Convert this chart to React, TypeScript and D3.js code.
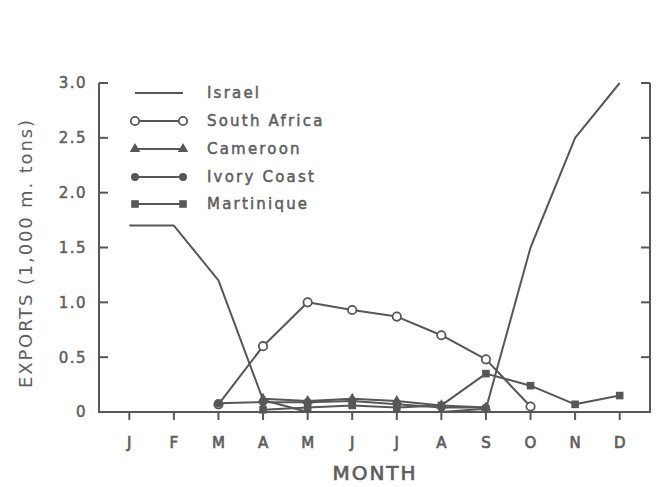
import React from "react";
import * as d3 from "d3";

const months = ["J", "F", "M", "A", "M", "J", "J", "A", "S", "O", "N", "D"];
const yTicks = [0, 0.5, 1.0, 1.5, 2.0, 2.5, 3.0];
const yTickLabels = ["0", "0.5", "1.0", "1.5", "2.0", "2.5", "3.0"];
const israel = [1.7, 1.7, 1.2, 0.11, 0, 0, 0, 0, 0.03, 1.5, 2.5, 3.0];
const southAfrica = [null, null, 0.07, 0.6, 1.0, 0.93, 0.87, 0.7, 0.48, 0.05, null, null];
const cameroon = [null, null, null, 0.12, 0.1, 0.12, 0.1, 0.06, 0.04, null, null, null];
const ivoryCoast = [null, null, 0.08, 0.09, 0.09, 0.1, 0.07, 0.04, 0.04, null, null, null];
const martinique = [null, null, null, 0.02, 0.04, 0.06, 0.04, 0.06, 0.35, 0.24, 0.07, 0.15];

const seriesNames = ["Israel", "South Africa", "Cameroon", "Ivory Coast", "Martinique"];
const seriesData = [israel, southAfrica, cameroon, ivoryCoast, martinique];
const seriesMarkers = ["none", "openCircle", "triangle", "filledCircle", "square"];

const W = 668;
const H = 487;
const INK = "#575757";
const TXT = "#5e5e5e";
const FONT = "'DejaVu Sans', sans-serif";

function Marker({ kind, x, y }: { kind: string; x: number; y: number }) {
  if (kind === "openCircle")
    return <circle cx={x} cy={y} r={4.2} fill="#fff" stroke={INK} strokeWidth={1.8} />;
  if (kind === "filledCircle")
    return <circle cx={x} cy={y} r={4} fill={INK} />;
  if (kind === "square")
    return <rect x={x - 3.8} y={y - 3.8} width={7.6} height={7.6} fill={INK} />;
  if (kind === "triangle") {
    const p = d3.symbol().type(d3.symbolTriangle).size(48)();
    return <path d={p || ""} transform={`translate(${x},${y})`} fill={INK} />;
  }
  return null;
}

export default function App() {
  const left = 99, right = 650, top = 83, bottom = 412;
  const x = d3.scalePoint<number>().domain(d3.range(months.length)).range([left, right]).padding(0.68);
  const y = d3.scaleLinear().domain([0, 3]).range([bottom, top]);
  const line = d3
    .line<number | null>()
    .defined((d) => d !== null)
    .x((_, i) => x(i) as number)
    .y((d) => y(d as number));

  const legendY = [93, 121, 149, 177, 204];

  return (
    <svg width={W} height={H} style={{ display: "block", position: "absolute", left: 0, top: 0, background: "#fff" }}>
      <rect width={W} height={H} fill="#fff" />
      {/* axes */}
      <path d={`M${left},${top}V${bottom}H${right}V${top}`} fill="none" stroke={INK} strokeWidth={2} />
      {yTicks.slice(1).map((t) => (
        <g key={t}>
          <line x1={left} x2={left + 9} y1={y(t)} y2={y(t)} stroke={INK} strokeWidth={2} />
          <line x1={right} x2={right - 9} y1={y(t)} y2={y(t)} stroke={INK} strokeWidth={2} />
        </g>
      ))}
      {yTicks.map((t, i) => (
        <text key={"l" + t} x={87} y={y(t)} dy="0.36em" textAnchor="end" fontFamily={FONT} fontSize={15}
          fill={TXT} stroke={TXT} strokeWidth={0.5} letterSpacing={1.5}>
          {yTickLabels[i]}
        </text>
      ))}
      {months.map((m, i) => (
        <g key={"m" + i}>
          <line x1={x(i)} x2={x(i)} y1={bottom} y2={bottom + 8} stroke={INK} strokeWidth={2} />
          <text x={x(i)} y={448} textAnchor="middle" fontFamily={FONT} fontSize={15} fill={TXT}
            stroke={TXT} strokeWidth={0.7}>
            {m}
          </text>
        </g>
      ))}
      <text x={375} y={480} textAnchor="middle" fontFamily={FONT} fontSize={20} fill={TXT} stroke={TXT}
        strokeWidth={0.7} letterSpacing={2}>
        MONTH
      </text>
      <text transform={`translate(32,254) rotate(-90)`} textAnchor="middle" fontFamily={FONT} fontSize={18}
        fill={TXT} textLength={268} lengthAdjust="spacing">
        EXPORTS (1,000 m. tons)
      </text>

      {/* series */}
      {seriesData.map((s, si) => (
        <g key={"s" + si}>
          <path d={line(s) || ""} fill="none" stroke={INK} strokeWidth={2} strokeLinejoin="round" />
          {s.map((d, i) =>
            d === null ? null : <Marker key={i} kind={seriesMarkers[si]} x={x(i) as number} y={y(d)} />
          )}
        </g>
      ))}

      {/* legend */}
      {seriesNames.map((n, i) => (
        <g key={"lg" + i}>
          <line x1={135} x2={183} y1={legendY[i]} y2={legendY[i]} stroke={INK} strokeWidth={2} />
          <Marker kind={seriesMarkers[i]} x={135} y={legendY[i]} />
          <Marker kind={seriesMarkers[i]} x={183} y={legendY[i]} />
          <text x={207} y={legendY[i]} dy="0.36em" fontFamily={FONT} fontSize={15} fill={TXT} stroke={TXT}
            strokeWidth={0.5} letterSpacing={2.2}>
            {n}
          </text>
        </g>
      ))}
    </svg>
  );
}
